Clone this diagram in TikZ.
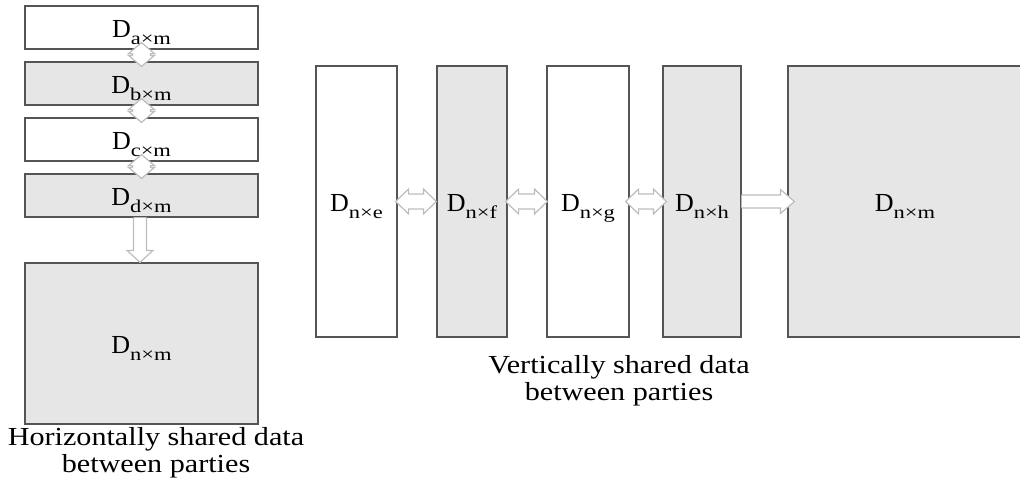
\documentclass[tikz,border=0pt]{standalone}
\usepackage{fontspec}
\setmainfont{Liberation Serif}
\newfontfamily\subfont[FakeStretch=1.25]{Liberation Serif}
\newfontfamily\capfont[FakeStretch=1.16]{Liberation Serif}
\usetikzlibrary{calc}

\definecolor{boxline}{HTML}{555555}
\definecolor{boxgray}{HTML}{E6E6E6}
\definecolor{arrowline}{HTML}{BDBDBD}

% matrix label: D with a wide subscript
\newcommand\dlab[1]{D\raisebox{-3.4pt}{\subfont\fontsize{9}{10}\selectfont #1}}

% horizontal block arrow with heads at both ends (#1 -> #2)
\newcommand\hdouble[2]{%
  \draw[blockarrow] let \p1=(#1), \p2=(#2) in
    (\x1,\y1) -- (\x1+6.5pt,\y1+6.25pt) -- (\x1+6.5pt,\y1+3.75pt)
    -- (\x2-6.5pt,\y1+3.75pt) -- (\x2-6.5pt,\y1+6.25pt) -- (\x2,\y1)
    -- (\x2-6.5pt,\y1-6.25pt) -- (\x2-6.5pt,\y1-3.75pt)
    -- (\x1+6.5pt,\y1-3.75pt) -- (\x1+6.5pt,\y1-6.25pt) -- cycle;}
% vertical block arrow with heads at both ends (#1 above #2)
\newcommand\vdouble[2]{%
  \draw[blockarrow] let \p1=(#1), \p2=(#2) in
    (\x1,\y1) -- (\x1+6.5pt,\y1-5.5pt) -- (\x1+4.5pt,\y1-5.5pt)
    -- (\x1+4.5pt,\y2+5.5pt) -- (\x1+6.5pt,\y2+5.5pt) -- (\x1,\y2)
    -- (\x1-6.5pt,\y2+5.5pt) -- (\x1-4.5pt,\y2+5.5pt)
    -- (\x1-4.5pt,\y1-5.5pt) -- (\x1-6.5pt,\y1-5.5pt) -- cycle;}
% single block arrow pointing right, open at its tail
\newcommand\hsingle[2]{%
  \fill[white] let \p1=(#1), \p2=(#2) in
    (\x1,\y1+3.25pt) -- (\x2-7pt,\y1+3.25pt) -- (\x2-7pt,\y1+6pt) -- (\x2,\y1)
    -- (\x2-7pt,\y1-6pt) -- (\x2-7pt,\y1-3.25pt) -- (\x1,\y1-3.25pt) -- cycle;
  \draw[blockarrow] let \p1=(#1), \p2=(#2) in
    (\x1,\y1+3.25pt) -- (\x2-7pt,\y1+3.25pt) -- (\x2-7pt,\y1+6pt) -- (\x2,\y1)
    -- (\x2-7pt,\y1-6pt) -- (\x2-7pt,\y1-3.25pt) -- (\x1,\y1-3.25pt);}
% single block arrow pointing down, open at its tail
\newcommand\vsingle[2]{%
  \fill[white] let \p1=(#1), \p2=(#2) in
    (\x1-3.25pt,\y1) -- (\x1-3.25pt,\y2+6pt) -- (\x1-6.5pt,\y2+6pt) -- (\x1,\y2)
    -- (\x1+6.5pt,\y2+6pt) -- (\x1+3.25pt,\y2+6pt) -- (\x1+3.25pt,\y1) -- cycle;
  \draw[blockarrow] let \p1=(#1), \p2=(#2) in
    (\x1-3.25pt,\y1) -- (\x1-3.25pt,\y2+6pt) -- (\x1-6.5pt,\y2+6pt) -- (\x1,\y2)
    -- (\x1+6.5pt,\y2+6pt) -- (\x1+3.25pt,\y2+6pt) -- (\x1+3.25pt,\y1);}

\tikzset{
  part/.style={draw=boxline, line width=0.6pt, inner sep=0pt,
    text height=10pt, text depth=0pt,
    font=\fontsize{13}{15}\selectfont},
  whitepart/.style={part, fill=white},
  graypart/.style={part, fill=boxgray},
  blockarrow/.style={draw=arrowline, fill=white, line width=0.6pt, line join=miter},
  caption/.style={align=center, inner sep=0pt, anchor=north,
    font=\capfont\fontsize{13}{13.5}\selectfont},
}

\begin{document}
\begin{tikzpicture}[x=0.5pt, y=-0.5pt]
\useasboundingbox (0,0) rectangle (1020,487);

% rows held by different parties (horizontal split)
\node[whitepart, minimum width=116.5pt, minimum height=21.5pt] (a) at (141.5,27.5) {\dlab{a×m}};
\node[graypart,  minimum width=116.5pt, minimum height=21.5pt] (b) at (141.5,83.5) {\dlab{b×m}};
\node[whitepart, minimum width=116.5pt, minimum height=21.5pt] (c) at (141.5,139.5) {\dlab{c×m}};
\node[graypart,  minimum width=116.5pt, minimum height=21.5pt] (d) at (141.5,195.5) {\dlab{d×m}};
\node[graypart,  minimum width=116.5pt, minimum height=80.5pt] (whole1) at (141.5,343.5) {\dlab{n×m}};

% columns held by different parties (vertical split)
\node[whitepart, minimum width=40.5pt, minimum height=135.5pt] (e) at (356.5,201.5) {\dlab{n×e}};
\node[graypart,  minimum width=35pt,   minimum height=135.5pt] (f) at (472,201.5) {\dlab{n×f}};
\node[whitepart, minimum width=41pt,   minimum height=135.5pt] (g) at (588,201.5) {\dlab{n×g}};
\node[graypart,  minimum width=39pt,   minimum height=135.5pt] (h) at (702,201.5) {\dlab{n×h}};
\node[graypart,  minimum width=117pt,  minimum height=135.5pt] (whole2) at (905,201.5) {\dlab{n×m}};

% arrows between the row blocks
\vdouble{[yshift=3.5pt]a.south}{[yshift=-2.5pt]b.north}
\vdouble{[yshift=3.5pt]b.south}{[yshift=-2.5pt]c.north}
\vdouble{[yshift=3.5pt]c.south}{[yshift=-2.5pt]d.north}
\vsingle{[xshift=-0.75pt]d.south}{[xshift=-0.75pt]whole1.north}

% arrows between the column blocks
\hdouble{[xshift=-1pt]e.east}{f.west}
\hdouble{[xshift=-1pt]f.east}{[xshift=0.5pt]g.west}
\hdouble{[xshift=-2pt]g.east}{[xshift=2pt]h.west}
\hsingle{h.east}{[xshift=3.5pt]whole2.west}

% captions
\node[caption] (caph) at (156,427) {Horizontally shared data\\between parties};
\node[caption] (capv) at (619,355) {Vertically shared data\\between parties};
\end{tikzpicture}
\end{document}
